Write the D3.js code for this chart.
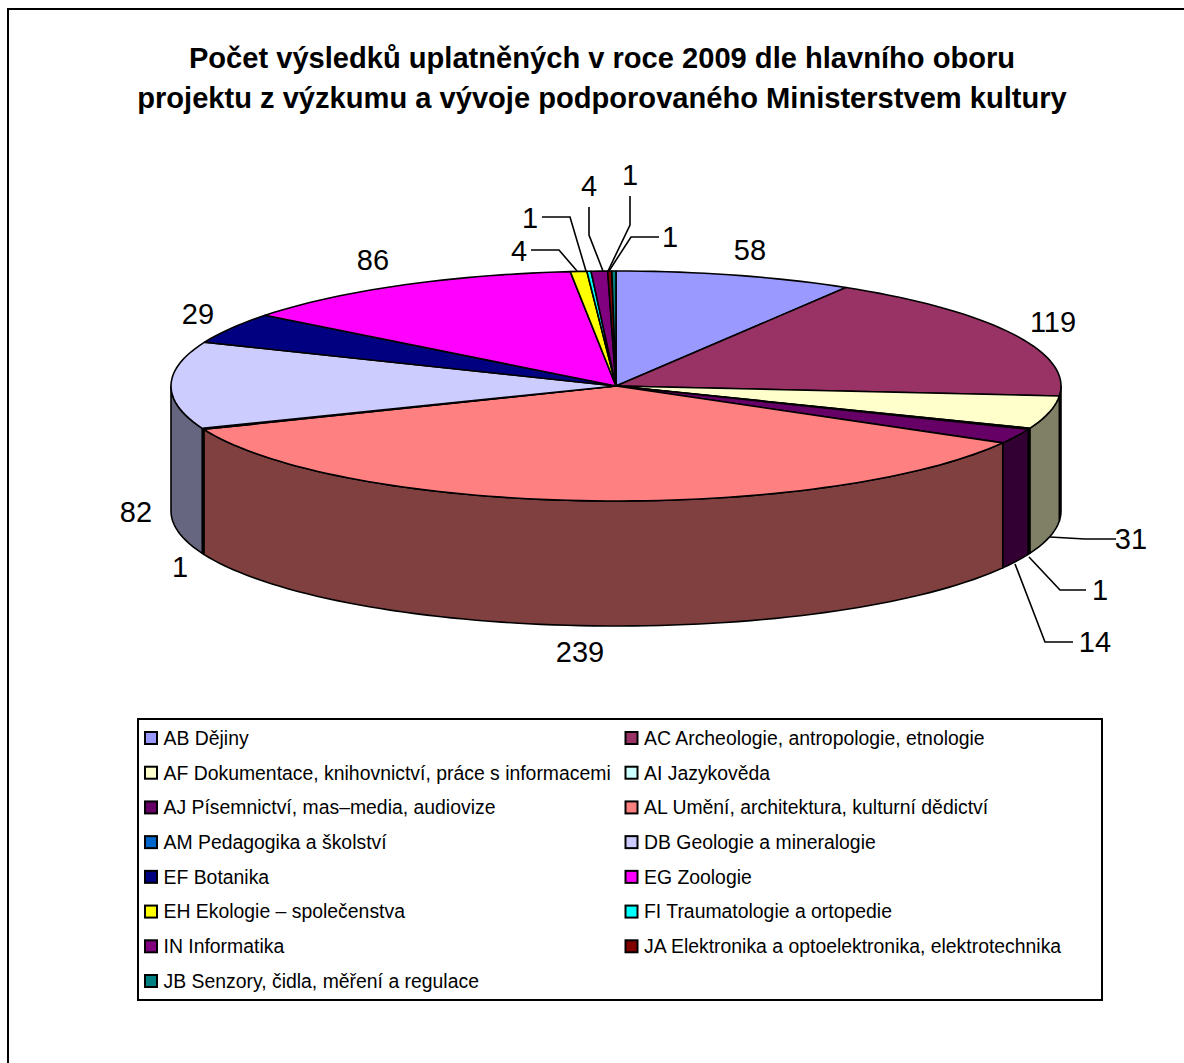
<!DOCTYPE html>
<html>
<head>
<meta charset="utf-8">
<script src="https://cdn.jsdelivr.net/npm/d3@7"></script>
<style>
html, body { margin: 0; padding: 0; background: #fff; }
svg { display: block; font-family: "Liberation Sans", Arial, sans-serif; }
</style>
</head>
<body>
<svg id="chart" width="1184" height="1063"></svg>
<script>
var categories = [
    "AB Dějiny",
    "AC Archeologie, antropologie, etnologie",
    "AF Dokumentace, knihovnictví, práce s informacemi",
    "AI Jazykověda",
    "AJ Písemnictví, mas–media, audiovize",
    "AL Umění, architektura, kulturní dědictví",
    "AM Pedagogika a školství",
    "DB Geologie a mineralogie",
    "EF Botanika",
    "EG Zoologie",
    "EH Ekologie – společenstva",
    "FI Traumatologie a ortopedie",
    "IN Informatika",
    "JA Elektronika a optoelektronika, elektrotechnika",
    "JB Senzory, čidla, měření a regulace"
];
var values = [58, 119, 31, 1, 14, 239, 1, 82, 29, 86, 4, 1, 4, 1, 1];
var colors = ["#9999ff", "#993366", "#ffffcc", "#ccffff", "#660066", "#ff8080", "#0066cc",
    "#ccccff", "#000080", "#ff00ff", "#ffff00", "#00ffff", "#800080", "#800000", "#008080"];
var titleLines = [
    "Počet výsledků uplatněných v roce 2009 dle hlavního oboru",
    "projektu z výzkumu a vývoje podporovaného Ministerstvem kultury"
];

var svg = d3.select("#chart");
var line = d3.line();

// outer frame, only top and left are inside the picture
svg.append("path")
    .attr("d", line([[8, 1063], [8, 9], [1184, 9]]))
    .attr("fill", "none")
    .attr("stroke", "#000")
    .attr("stroke-width", 2);

svg.append("g").selectAll("text")
    .data(titleLines)
    .enter()
    .append("text")
    .attr("x", 602)
    .attr("y", function (d, i) {return 68 + i * 40;})
    .attr("text-anchor", "middle")
    .attr("font-size", 29.1)
    .attr("font-weight", "bold")
    .text(function (d) {return d;});

// the pie is flattened: unit circle coordinates go through two scales
var depth = 125;
var px = d3.scaleLinear().domain([-1, 1]).range([171, 1061]);
var py = d3.scaleLinear().domain([-1, 1]).range([271, 501]);

var slices = d3.pie().sort(null).value(function (d) {return d;})(values);
slices.forEach(function (s, i) { s.color = colors[i]; });

var rimPoint = function (a, dy) {
    return [px(Math.sin(a)), py(-Math.cos(a)) + (dy || 0)];
};
var arcPoints = function (a0, a1, dy) {
    var n = Math.max(2, Math.ceil((a1 - a0) / 0.03));
    return d3.range(n + 1).map(function (k) {
        return rimPoint(a0 + (a1 - a0) * k / n, dy);
    });
};

function halfTone(c) {
    var k = d3.rgb(c);
    return d3.rgb(k.r / 2, k.g / 2, k.b / 2).formatHex();
}

// side walls
var sides = slices.filter(function (s) {
    return s.endAngle > Math.PI / 2 && s.startAngle < 3 * Math.PI / 2;
});
svg.append("g").selectAll("path")
    .data(sides)
    .enter()
    .append("path")
    .attr("d", function (s) {
        var a0 = Math.max(s.startAngle, Math.PI / 2);
        var a1 = Math.min(s.endAngle, 3 * Math.PI / 2);
        var pts = arcPoints(a0, a1, 0).concat(arcPoints(a0, a1, depth).reverse());
        return line(pts) + "Z";
    })
    .attr("fill", function (s) {return halfTone(s.color);})
    .attr("stroke", "#000")
    .attr("stroke-width", 1.6)
    .attr("stroke-linejoin", "round");

// top faces
svg.append("g").selectAll("path")
    .data(slices)
    .enter()
    .append("path")
    .attr("d", function (s) {
        var pts = [[px(0), py(0)]].concat(arcPoints(s.startAngle, s.endAngle, 0));
        return line(pts) + "Z";
    })
    .attr("fill", function (s) {return s.color;})
    .attr("stroke", "#000")
    .attr("stroke-width", 1.6)
    .attr("stroke-linejoin", "round");

// data labels, hand placed like the chart editor left them
var labelPos = [[750, 250], [1053, 322], [1131, 539], [1100, 590], [1095, 642], [580, 652], [180, 567],
    [136, 512], [198, 314], [373, 260], [519, 251], [530, 218], [589, 186], [630, 175], [670, 237]];
var leaders = {
    2: [[1116, 539], [1085, 539], [1050, 537]],
    3: [[1086, 590], [1060, 590], [1029, 557]],
    4: [[1073, 642], [1045, 642], [1015, 564]],
    10: [[531, 250], [559, 250], [577, 271]],
    11: [[542, 217], [570, 217], [586, 271]],
    12: [[589, 207], [589, 235], [603, 271]],
    13: [[630, 196], [630, 225], [608, 271]],
    14: [[659, 237], [631, 237], [609, 271]]
};

svg.append("g").selectAll("path")
    .data(Object.keys(leaders))
    .enter()
    .append("path")
    .attr("d", function (k) {return line(leaders[k]);})
    .attr("fill", "none")
    .attr("stroke", "#000")
    .attr("stroke-width", 1.6);

svg.append("g").selectAll("text")
    .data(values)
    .enter()
    .append("text")
    .attr("x", function (d, i) {return labelPos[i][0];})
    .attr("y", function (d, i) {return labelPos[i][1];})
    .attr("dy", "0.35em")
    .attr("text-anchor", "middle")
    .attr("font-size", 29)
    .text(function (d) {return d;});

// legend
var legend = svg.append("g");
legend.append("rect")
    .attr("x", 138).attr("y", 719)
    .attr("width", 964).attr("height", 281)
    .attr("fill", "#fff").attr("stroke", "#000").attr("stroke-width", 2);

var legendX = d3.scalePoint().domain([0, 1]).range([145, 625.5]);
var legendY = d3.scaleLinear().domain([0, 7]).range([738, 981]);

var item = legend.selectAll("g")
    .data(categories)
    .enter()
    .append("g")
    .attr("transform", function (d, i) {
        return "translate(" + legendX(i % 2) + "," + legendY(Math.floor(i / 2)) + ")";
    });
item.append("rect")
    .attr("x", 0).attr("y", -6)
    .attr("width", 12).attr("height", 12)
    .attr("fill", function (d, i) {return colors[i];})
    .attr("stroke", "#000")
    .attr("stroke-width", 2);
item.append("text")
    .attr("x", 18.5)
    .attr("dy", "0.35em")
    .attr("font-size", 19.4)
    .text(function (d) {return d;});
</script>
</body>
</html>
